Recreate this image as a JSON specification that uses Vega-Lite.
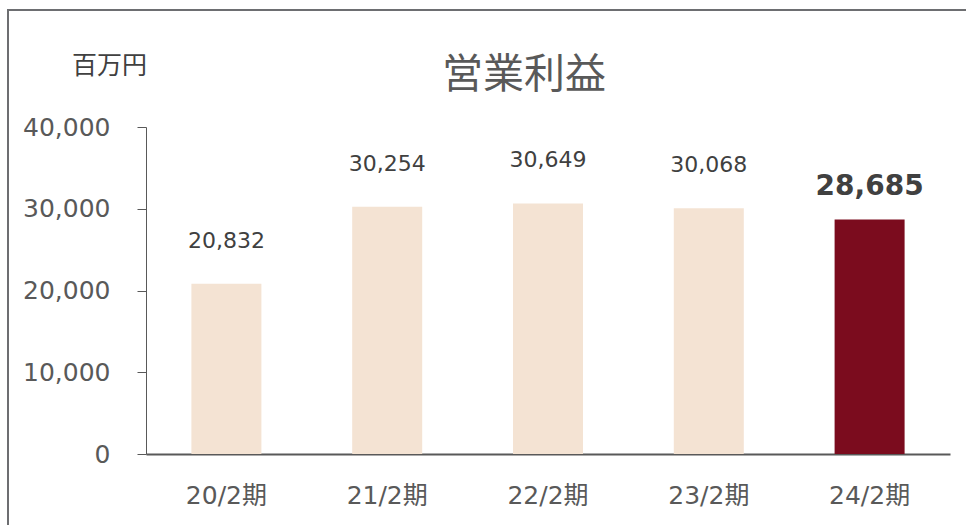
{
  "$schema": "https://vega.github.io/schema/vega-lite/v6.json",
  "autosize": {"type": "none"},
  "padding": {"left": 8, "top": 10, "right": -2, "bottom": -2},
  "width": 960,
  "height": 517,
  "background": "white",
  "config": {
    "view": {"stroke": "#6d6e71", "strokeWidth": 2},
    "font": "DejaVu Sans, Noto Sans CJK JP"
  },
  "title": {
    "text": "営業利益",
    "font": "Noto Sans CJK JP",
    "fontSize": 41,
    "fontWeight": "normal",
    "color": "#595959",
    "anchor": "middle",
    "baseline": "middle",
    "offset": 0,
    "dx": 36,
    "dy": 107
  },
  "data": {
    "values": [
      {"period": "20/2期", "value": 20832, "current": "no"},
      {"period": "21/2期", "value": 30254, "current": "no"},
      {"period": "22/2期", "value": 30649, "current": "no"},
      {"period": "23/2期", "value": 30068, "current": "no"},
      {"period": "24/2期", "value": 28685, "current": "yes"}
    ]
  },
  "encoding": {
    "x": {
      "field": "period",
      "type": "nominal",
      "sort": null,
      "scale": {"range": [138, 942], "paddingInner": 0, "paddingOuter": 0},
      "axis": {
        "title": null,
        "orient": "bottom",
        "offset": -73,
        "labelAngle": 0,
        "labelFontSize": 25,
        "labelColor": "#595959",
        "labelPadding": 29,
        "ticks": false,
        "domainColor": "#595959",
        "domainWidth": 2,
        "grid": false
      }
    },
    "y": {
      "field": "value",
      "type": "quantitative",
      "scale": {"domain": [0, 40000], "range": [444, 117], "nice": false, "zero": true},
      "axis": {
        "orient": "left",
        "offset": -138,
        "values": [0, 10000, 20000, 30000, 40000],
        "format": ",.0f",
        "grid": false,
        "labelFontSize": 25,
        "labelColor": "#595959",
        "labelPadding": 27,
        "tickSize": 9,
        "tickColor": "#595959",
        "domainColor": "#595959",
        "domainWidth": 1,
        "title": "百万円",
        "titleFont": "Noto Sans CJK JP",
        "titleFontSize": 25,
        "titleFontWeight": "normal",
        "titleColor": "#404040",
        "titleAngle": 0,
        "titleAlign": "center",
        "titleBaseline": "middle",
        "titleX": -37,
        "titleY": 55
      }
    }
  },
  "layer": [
    {
      "mark": {"type": "bar", "width": 70},
      "encoding": {
        "color": {
          "field": "current",
          "type": "nominal",
          "scale": {"domain": ["no", "yes"], "range": ["#F4E3D3", "#7B0C1E"]},
          "legend": null
        }
      }
    },
    {
      "transform": [{"filter": "datum.current === 'no'"}],
      "mark": {"type": "text", "baseline": "middle", "dy": -43, "fontSize": 22, "color": "#404040"},
      "encoding": {"text": {"field": "value", "type": "quantitative", "format": ",.0f"}}
    },
    {
      "transform": [{"filter": "datum.current === 'yes'"}],
      "mark": {"type": "text", "baseline": "middle", "dy": -33, "fontSize": 28, "fontWeight": "bold", "color": "#404040"},
      "encoding": {"text": {"field": "value", "type": "quantitative", "format": ",.0f"}}
    }
  ]
}
